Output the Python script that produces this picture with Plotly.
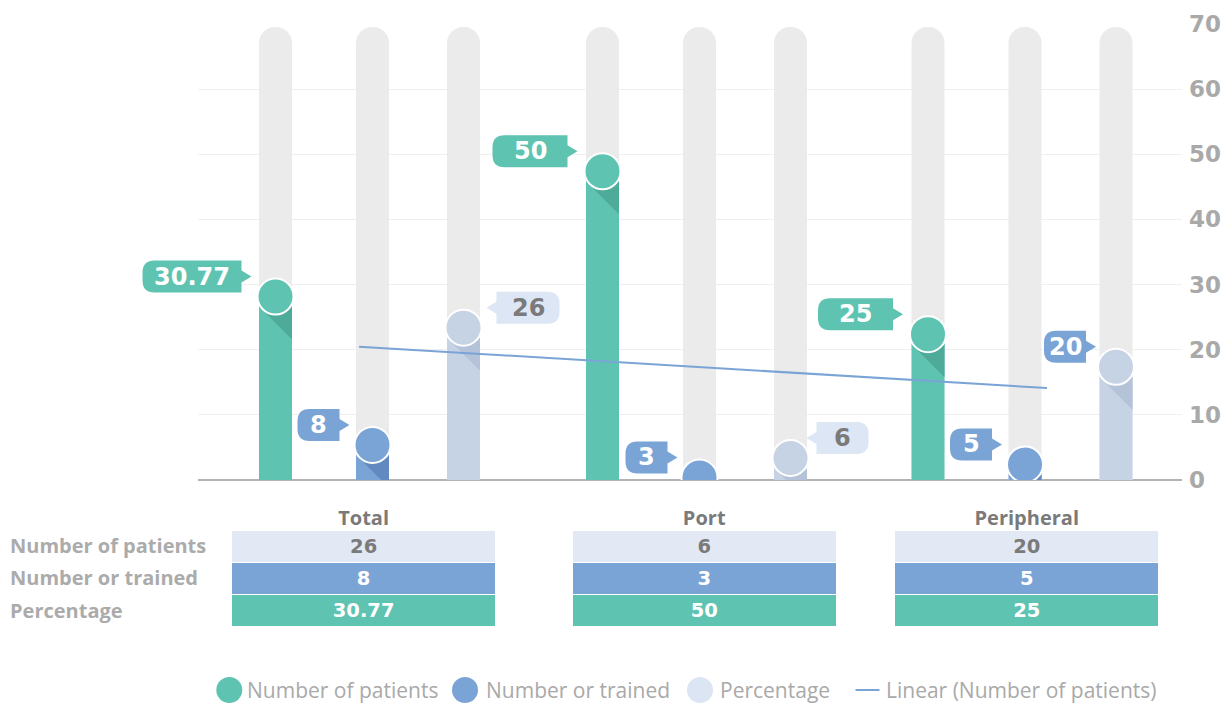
import numpy as np
import plotly.graph_objects as go

# ---------------- data ----------------
categories = ["Total", "Port", "Peripheral"]
num_patients = [26, 6, 20]          # light blue series
num_trained = [8, 3, 5]             # blue series
percentage = [30.77, 50, 25]        # green series
y_ticks = [0, 10, 20, 30, 40, 50, 60, 70]
y_max = 70
row_labels = ["Number of patients", "Number or trained", "Percentage"]
legend_labels = ["Number of patients", "Number or trained", "Percentage",
                 "Linear (Number of patients)"]

# ---------------- style / geometry ----------------
W, H = 1231, 706
PX0, PX1 = 198, 1182          # plot area (pixels)
PY_TOP, PY_BOT = 24, 480
PPU = (PY_BOT - PY_TOP) / y_max  # pixels per unit

GREEN = "#5ec4b1"
GREEN_D = "#4fab99"
BLUE = "#7ba4d6"
BLUE_D = "#628ac0"
LIGHT = "#c6d3e5"
LIGHT_D = "#b5c3d9"
LIGHT_BADGE = "#dce6f4"
LIGHT_ROW = "#e2e9f5"
GRAY_BAR = "#ebebeb"
TXT_GRAY = "#7a7a7a"
LBL_GRAY = "#ababab"

group_centers = [372.5, 699.5, 1025]
series_offsets = [-97, 0, 91]
BAR_W = 33
CIRCLE_DROP = 17   # px circle centre below value
BG_TOP_GAP = 3     # px gap of grey background bars below the top gridline


def py2paper(py):
    return 1 - py / H


def val2paper(v):
    return py2paper(PY_BOT - v * PPU)


series = [
    dict(name=legend_labels[0], vals=percentage, color=GREEN, dark=GREEN_D),
    dict(name=legend_labels[1], vals=num_trained, color=BLUE, dark=BLUE_D),
    dict(name=legend_labels[2], vals=num_patients, color=LIGHT, dark=LIGHT_D),
]
# badge styles per series/group: (side, near edge px, width px, fill, text colour)
badge_style = [
    [("L", 34, 99, GREEN, "white"), ("L", 35, 75, GREEN, "white"), ("L", 35, 75, GREEN, "white")],
    [("L", 33, 42, BLUE, "white"), ("L", 32, 42, BLUE, "white"), ("L", 33, 42, BLUE, "white")],
    [("R", 33, 63, LIGHT_BADGE, TXT_GRAY), ("R", 26, 52, LIGHT_BADGE, TXT_GRAY), ("L", 30, 42, BLUE, "white")],
]

fig = go.Figure()

xa = dict(range=[PX0, PX1], domain=[PX0 / W, PX1 / W], visible=False, fixedrange=True,
          automargin=False)
ya = dict(range=[0, y_max], domain=[(H - PY_BOT) / H, (H - PY_TOP) / H],
          side="right", tickvals=y_ticks, showgrid=True, gridcolor="#efefef", gridwidth=1,
          zeroline=True, zerolinecolor="#b3b3b3", zerolinewidth=1.5, automargin=False,
          tickfont=dict(family="DejaVu Sans", size=23, color="#a9a9a9", weight="bold"),
          ticks="", ticklabelstandoff=6, showline=False, fixedrange=True)

all_x = [gc + off for gc in group_centers for off in series_offsets]

# background bars
fig.add_trace(go.Bar(x=all_x, y=[y_max - BG_TOP_GAP / PPU] * len(all_x), width=BAR_W,
                     marker=dict(color=GRAY_BAR, cornerradius=16, line=dict(width=0)),
                     hoverinfo="skip", showlegend=False))

# coloured bars (their tops are hidden under the circles)
for si, s in enumerate(series):
    xs = [gc + series_offsets[si] for gc in group_centers]
    fig.add_trace(go.Bar(x=xs, y=[v - CIRCLE_DROP / PPU for v in s["vals"]], width=BAR_W,
                         marker=dict(color=s["color"], line=dict(width=0)),
                         customdata=s["vals"], hovertemplate="%{customdata}<extra></extra>",
                         name=s["name"], showlegend=False))

# fold shadows
for si, s in enumerate(series):
    for gi, v in enumerate(s["vals"]):
        xc = group_centers[gi] + series_offsets[si]
        yt = v - (CIRCLE_DROP + 10) / PPU
        yb = v - (CIRCLE_DROP + 10 + BAR_W) / PPU
        fig.add_trace(go.Scatter(x=[xc - BAR_W / 2, xc + BAR_W / 2, xc + BAR_W / 2, xc - BAR_W / 2],
                                 y=[yt, yt, yb, yt], fill="toself", fillcolor=s["dark"],
                                 mode="lines", line=dict(width=0), hoverinfo="skip",
                                 showlegend=False))

# trend line (linear fit of number of patients)
fit = np.polyfit(group_centers, num_patients, 1)
tx = np.array([359, 1047])
fig.add_trace(go.Scatter(x=tx, y=np.polyval(fit, tx), mode="lines",
                         line=dict(color=BLUE, width=2), showlegend=False, hoverinfo="skip"))

# circles
for si, s in enumerate(series):
    xs = [gc + series_offsets[si] for gc in group_centers]
    ys = [v - CIRCLE_DROP / PPU for v in s["vals"]]
    fig.add_trace(go.Scatter(x=xs, y=ys, mode="markers", cliponaxis=True,
                             marker=dict(size=36, color=s["color"], line=dict(color="white", width=2)),
                             showlegend=False, hoverinfo="skip"))

# badges
shapes = []
annotations = []
R = 12
HB = 16
YC = 3
for si, s in enumerate(series):
    for gi, v in enumerate(s["vals"]):
        side, near, w, fill, tcol = badge_style[si][gi]
        xc = group_centers[gi] + series_offsets[si]
        yt, yb = YC + HB, YC - HB
        if side == "L":
            xr = -near
            xl = xr - w
            path = (f"M {xr},{yt} L {xr},{YC + 6} L {xr + 10},{YC} L {xr},{YC - 6} L {xr},{yb} "
                    f"L {xl + R},{yb} Q {xl},{yb} {xl},{yb + R} L {xl},{yt - R} Q {xl},{yt} {xl + R},{yt} Z")
        else:
            xl = near
            xr = xl + w
            path = (f"M {xl},{yt} L {xl},{YC + 6} L {xl - 10},{YC} L {xl},{YC - 6} L {xl},{yb} "
                    f"L {xr - R},{yb} Q {xr},{yb} {xr},{yb + R} L {xr},{yt - R} Q {xr},{yt} {xr - R},{yt} Z")
        shapes.append(dict(type="path", xref="paper", yref="paper", xsizemode="pixel", ysizemode="pixel",
                           xanchor=xc / W, yanchor=val2paper(v), path=path, fillcolor=fill,
                           line=dict(width=0), layer="above"))
        annotations.append(dict(x=xc, y=v, xref="x", yref="y", text=f"{v:g}", showarrow=False,
                                xshift=(xl + xr) / 2, yshift=YC,
                                font=dict(family="DejaVu Sans", size=24, color=tcol, weight="bold")))

# table
def fmt(v):
    return f"{v:g}"

tbl_cols = [row_labels,
            [fmt(v) for v in [num_patients[0], num_trained[0], percentage[0]]],
            ["", "", ""],
            [fmt(v) for v in [num_patients[1], num_trained[1], percentage[1]]],
            ["", "", ""],
            [fmt(v) for v in [num_patients[2], num_trained[2], percentage[2]]]]
data_fill = [LIGHT_ROW, BLUE, GREEN]
data_font = [TXT_GRAY, "white", "white"]
fills = ["white", data_fill, "white", data_fill, "white", data_fill]
fcols = [LBL_GRAY, data_font, LBL_GRAY, data_font, LBL_GRAY, data_font]
ffam = ["Open Sans", "DejaVu Sans", "Open Sans", "DejaVu Sans", "Open Sans", "DejaVu Sans"]
fsz = [20, 19.5, 18, 19.5, 18, 19.5]
fig.add_trace(go.Table(
    domain=dict(x=[2 / W, 1159 / W], y=[(H - 631) / H, (H - 502) / H]),
    columnwidth=[229, 264, 76, 264, 58, 264],
    header=dict(values=["", categories[0], "", categories[1], "", categories[2]],
                fill_color="white", line=dict(color="white", width=0), height=28,
                align="center",
                font=dict(family="Open Sans", size=20, color=TXT_GRAY, weight="bold")),
    cells=dict(values=tbl_cols, fill_color=fills, line=dict(color="white", width=1.5),
               height=32.3, align=["left", "center", "center", "center", "center", "center"],
               font=dict(family=ffam, size=fsz, color=fcols, weight="bold")),
))

# custom legend
LEG_Y = 690
leg_items = [(229.3, 245, GREEN, "circle"), (465, 484, BLUE, "circle"),
             (700, 718, "#dce5f3", "circle"), (867.5, 884, BLUE, "line")]
for (cx, tx0, col, kind), lab in zip(leg_items, legend_labels):
    if kind == "circle":
        shapes.append(dict(type="circle", xref="paper", yref="paper",
                           x0=(cx - 13) / W, x1=(cx + 13) / W,
                           y0=py2paper(LEG_Y + 13), y1=py2paper(LEG_Y - 13),
                           fillcolor=col, line=dict(width=0)))
    else:
        shapes.append(dict(type="line", xref="paper", yref="paper",
                           x0=(cx - 12) / W, x1=(cx + 12) / W,
                           y0=py2paper(LEG_Y), y1=py2paper(LEG_Y),
                           line=dict(color=col, width=2)))
    annotations.append(dict(x=tx0 / W, y=py2paper(LEG_Y), xref="paper", yref="paper",
                            xanchor="left", yanchor="middle", text=lab, showarrow=False,
                            font=dict(family="Open Sans", size=21, color="#a9a9a9")))

fig.update_layout(
    width=W, height=H, margin=dict(l=0, r=0, t=0, b=0, autoexpand=False),
    paper_bgcolor="white", plot_bgcolor="white",
    barmode="overlay", showlegend=False,
    xaxis=xa, yaxis=ya, shapes=shapes, annotations=annotations,
)

fig.write_html("out.html", config={"displayModeBar": False},
               post_script="document.body.style.margin='0';")
